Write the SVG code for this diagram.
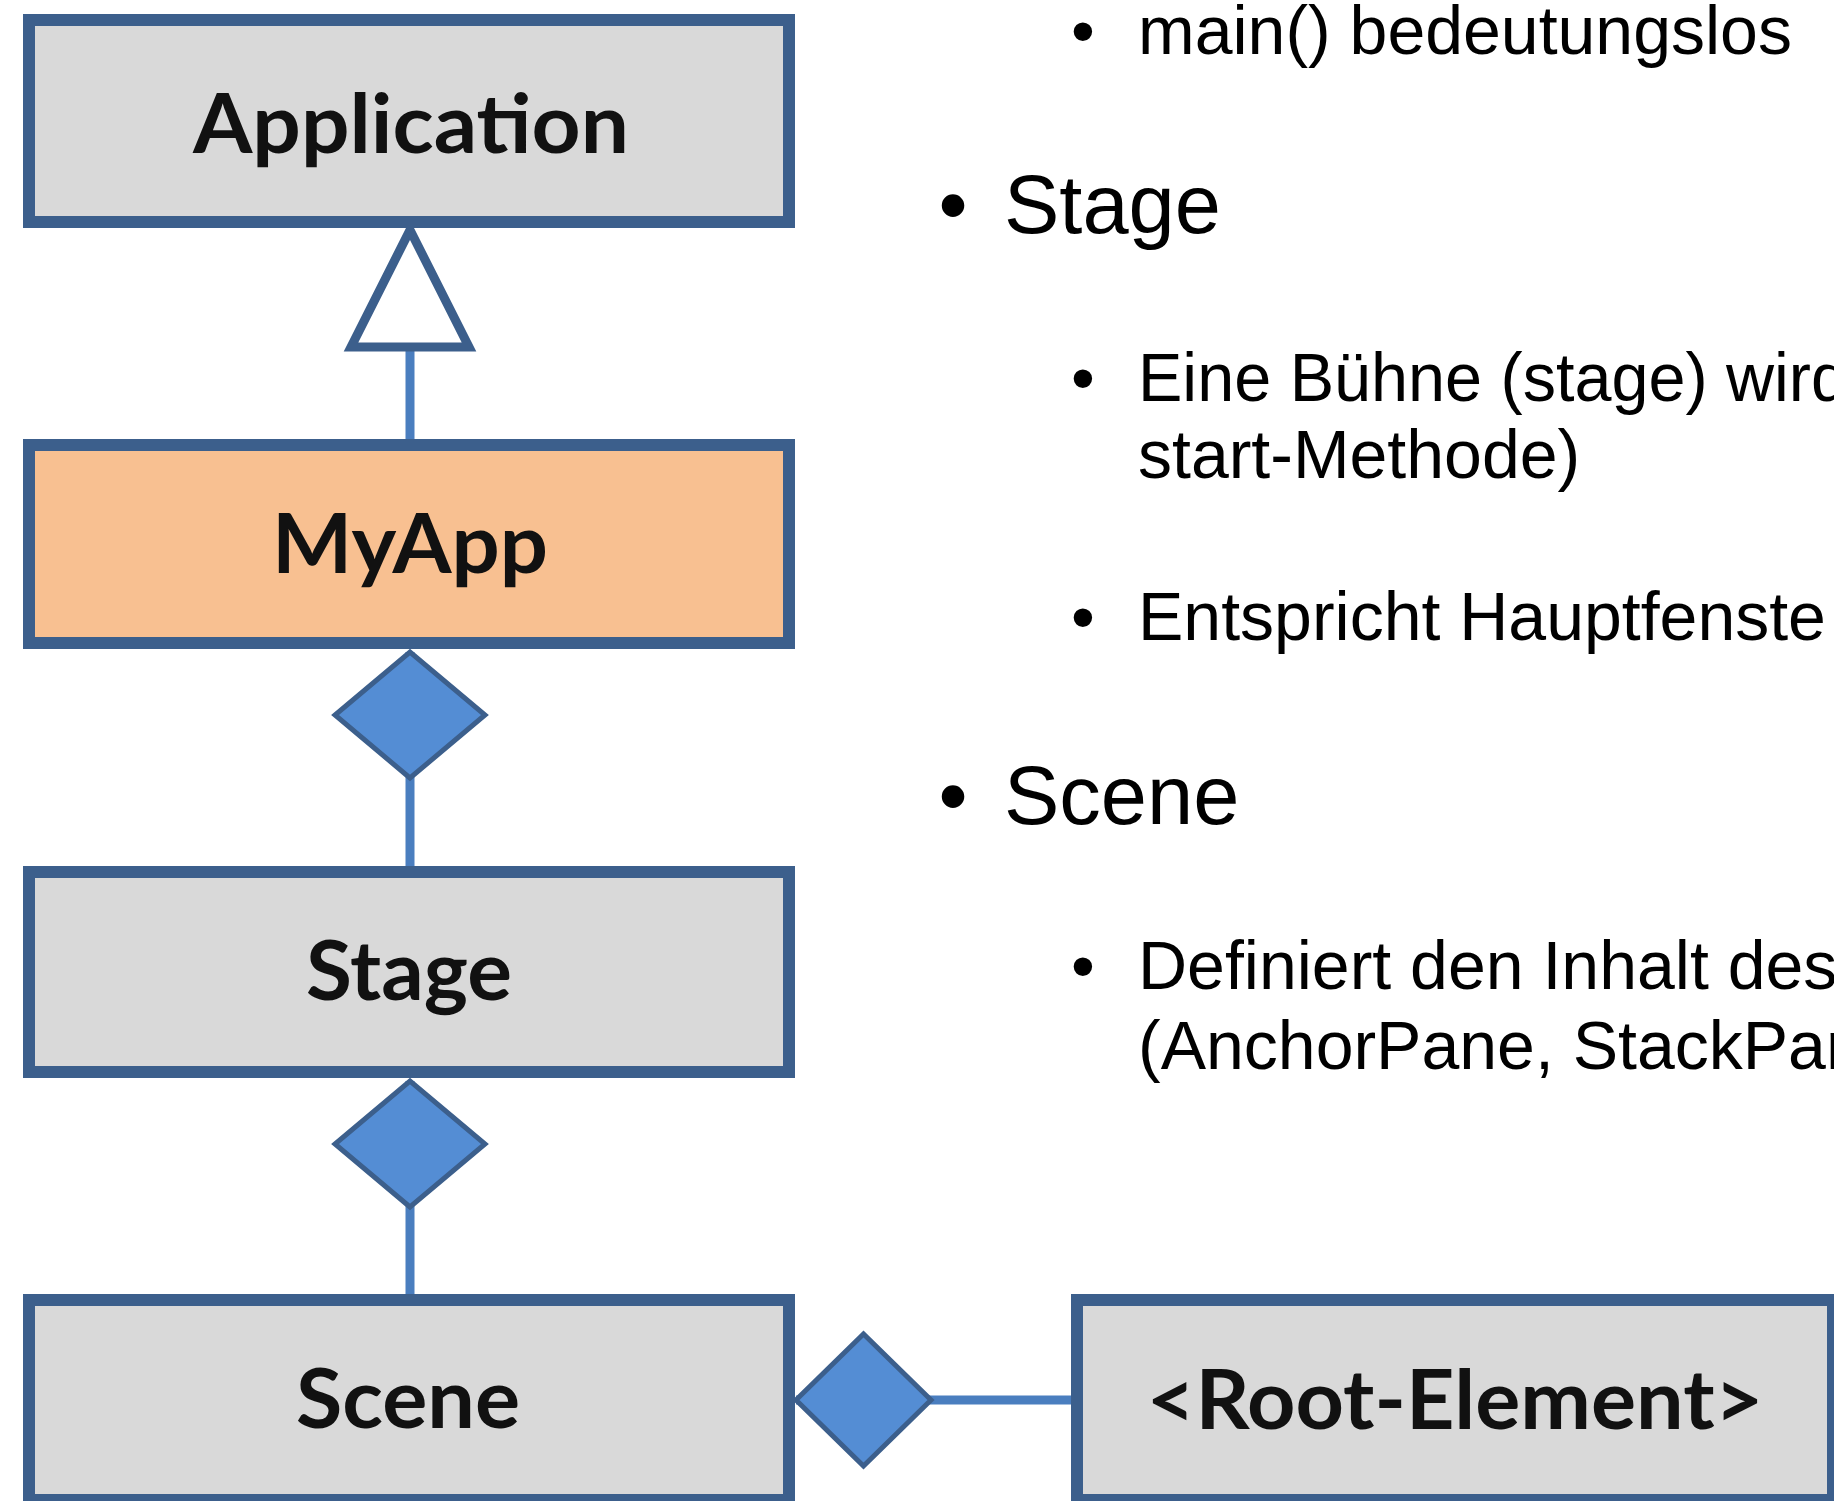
<svg xmlns="http://www.w3.org/2000/svg" width="1834" height="1501" viewBox="0 0 1834 1501">
  <style>
    .box { fill: #d9d9d9; stroke: #3c5f8c; stroke-width: 12; }
    .box.app { fill: #f8c091; }
    .label { font-family: Lato, "Open Sans", "Liberation Sans", sans-serif; font-weight: bold; font-size: 82px; fill: #111111; text-anchor: middle; }
    .conn { stroke: #4a7ebf; stroke-width: 9; fill: none; }
    .sub { font-family: "Liberation Sans", Arial, Helvetica, sans-serif; font-size: 68px; fill: #000000; }
    .head { font-family: "Liberation Sans", Arial, Helvetica, sans-serif; font-size: 83px; fill: #000000; }
    .bul { text-anchor: middle; }
  </style>
  <defs>
    <marker id="tri" markerUnits="userSpaceOnUse" viewBox="-10 -75 140 150" markerWidth="140" markerHeight="150" refX="117" refY="0" orient="auto" overflow="visible">
      <polygon points="0,-59 117,0 0,59" fill="#ffffff" stroke="#3c5f8c" stroke-width="9" stroke-linejoin="miter"/>
    </marker>
    <marker id="diaV" markerUnits="userSpaceOnUse" viewBox="-10 -85 146 170" markerWidth="146" markerHeight="170" refX="126" refY="0" orient="auto" overflow="visible">
      <polygon points="0,0 63,-75 126,0 63,75" fill="#548dd4" stroke="#3c5f8c" stroke-width="5" stroke-linejoin="miter"/>
    </marker>
    <marker id="diaH" markerUnits="userSpaceOnUse" viewBox="-10 -80 155 160" markerWidth="155" markerHeight="160" refX="135" refY="0" orient="auto" overflow="visible">
      <polygon points="0,0 67.5,-66 135,0 67.5,66" fill="#548dd4" stroke="#3c5f8c" stroke-width="5" stroke-linejoin="miter"/>
    </marker>
  </defs>

  <rect x="0" y="0" width="1834" height="1501" fill="#ffffff"/>

  <g id="connectors">
    <line class="conn" x1="410" y1="439" x2="410" y2="230" marker-end="url(#tri)"/>
    <line class="conn" x1="410" y1="866" x2="410" y2="652" marker-end="url(#diaV)"/>
    <line class="conn" x1="410" y1="1294" x2="410" y2="1081" marker-end="url(#diaV)"/>
    <line class="conn" x1="1071" y1="1400" x2="796" y2="1400" marker-end="url(#diaH)"/>
  </g>

  <g id="node-application">
    <rect class="box" x="29" y="20" width="760" height="202"/>
    <text class="label" x="411" y="153" textLength="436" lengthAdjust="spacingAndGlyphs">Application</text>
  </g>
  <g id="node-myapp">
    <rect class="box app" x="29" y="445" width="760" height="198"/>
    <text class="label" x="410" y="573" textLength="276" lengthAdjust="spacingAndGlyphs">MyApp</text>
  </g>
  <g id="node-stage">
    <rect class="box" x="29" y="872" width="760" height="200"/>
    <text class="label" x="409" y="1000" textLength="206" lengthAdjust="spacingAndGlyphs">Stage</text>
  </g>
  <g id="node-scene">
    <rect class="box" x="29" y="1300" width="760" height="200"/>
    <text class="label" x="408" y="1428" textLength="224" lengthAdjust="spacingAndGlyphs">Scene</text>
  </g>
  <g id="node-root">
    <rect class="box" x="1077" y="1300" width="756" height="200"/>
    <text class="label" x="1455" y="1429" textLength="617" lengthAdjust="spacingAndGlyphs">&lt;Root-Element&gt;</text>
  </g>

  <g id="notes">
    <text class="sub bul" x="1083" y="54">•</text>
    <text class="sub" x="1138" y="54">main() bedeutungslos</text>

    <text class="head bul" x="953" y="233">•</text>
    <text class="head" x="1004" y="233">Stage</text>

    <text class="sub bul" x="1083" y="401">•</text>
    <text class="sub" x="1138" y="401" textLength="710" lengthAdjust="spacingAndGlyphs">Eine Bühne (stage) wird</text>
    <text class="sub" x="1138" y="478">start-Methode)</text>

    <text class="sub bul" x="1083" y="640">•</text>
    <text class="sub" x="1138" y="640">Entspricht Hauptfenste</text>

    <text class="head bul" x="953" y="824">•</text>
    <text class="head" x="1004" y="824">Scene</text>

    <text class="sub bul" x="1083" y="989">•</text>
    <text class="sub" x="1138" y="989">Definiert den Inhalt des</text>
    <text class="sub" x="1138" y="1069">(AnchorPane, StackPan</text>
  </g>
</svg>
